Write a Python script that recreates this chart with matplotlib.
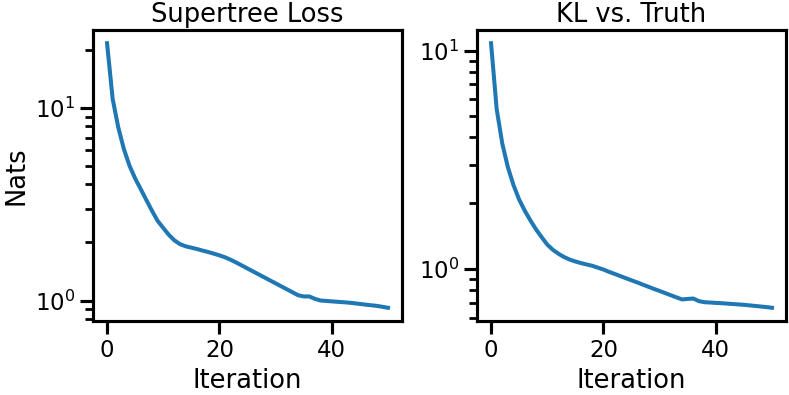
import numpy as np
import matplotlib
matplotlib.use("Agg")
import matplotlib.pyplot as plt
import seaborn as sns

# Iterations 0..50
iterations = list(range(51))

# Supertree loss (nats)
supertree_loss = [
    21.6, 11.1, 7.9, 6.1, 5.0, 4.3, 3.78, 3.32, 2.92, 2.59,
    2.38, 2.19, 2.05, 1.96, 1.91, 1.88, 1.85, 1.815, 1.785, 1.75,
    1.715, 1.675, 1.627, 1.574, 1.519, 1.466, 1.415, 1.366, 1.318, 1.272,
    1.228, 1.185, 1.144, 1.104, 1.065, 1.05, 1.05, 1.02, 1.0, 0.995,
    0.99, 0.985, 0.98, 0.975, 0.968, 0.96, 0.952, 0.945, 0.938, 0.928,
    0.917,
]

# KL divergence vs. truth (nats)
kl_truth = [
    10.8, 5.4, 3.75, 2.92, 2.42, 2.08, 1.85, 1.67, 1.52, 1.40,
    1.295, 1.225, 1.175, 1.135, 1.105, 1.083, 1.065, 1.05, 1.035, 1.015,
    0.995, 0.971, 0.950, 0.929, 0.908, 0.888, 0.869, 0.849, 0.830, 0.811,
    0.794, 0.776, 0.759, 0.742, 0.726, 0.73, 0.733, 0.713, 0.705, 0.703,
    0.70, 0.698, 0.695, 0.692, 0.689, 0.686, 0.682, 0.678, 0.674, 0.67,
    0.665,
]

sns.set_context("talk")
plt.rcParams["axes.linewidth"] = 2.25
for axis in ("xtick", "ytick"):
    plt.rcParams[axis + ".major.width"] = 2.25
    plt.rcParams[axis + ".minor.width"] = 2.0
    plt.rcParams[axis + ".major.size"] = 9.5
    plt.rcParams[axis + ".minor.size"] = 6

fig = plt.figure(figsize=(7.89, 3.95), dpi=100)
ax1 = fig.add_axes([93 / 789, 1 - 321 / 395, 309 / 789, 291 / 395])
ax2 = fig.add_axes([477 / 789, 1 - 321 / 395, 309 / 789, 291 / 395])

ax1.plot(iterations, supertree_loss, color="#1f77b4", lw=2.9)
ax1.set_yscale("log")
ax1.set_title("Supertree Loss", fontsize=18.5)
ax1.set_xlabel("Iteration", fontsize=18.5)
ax1.set_ylabel("Nats", fontsize=18.5)

ax2.plot(iterations, kl_truth, color="#1f77b4", lw=2.9)
ax2.set_yscale("log")
ax2.set_title("KL vs. Truth", fontsize=18.5)
ax2.set_xlabel("Iteration", fontsize=18.5)

fig.savefig("out.png", dpi=100)
